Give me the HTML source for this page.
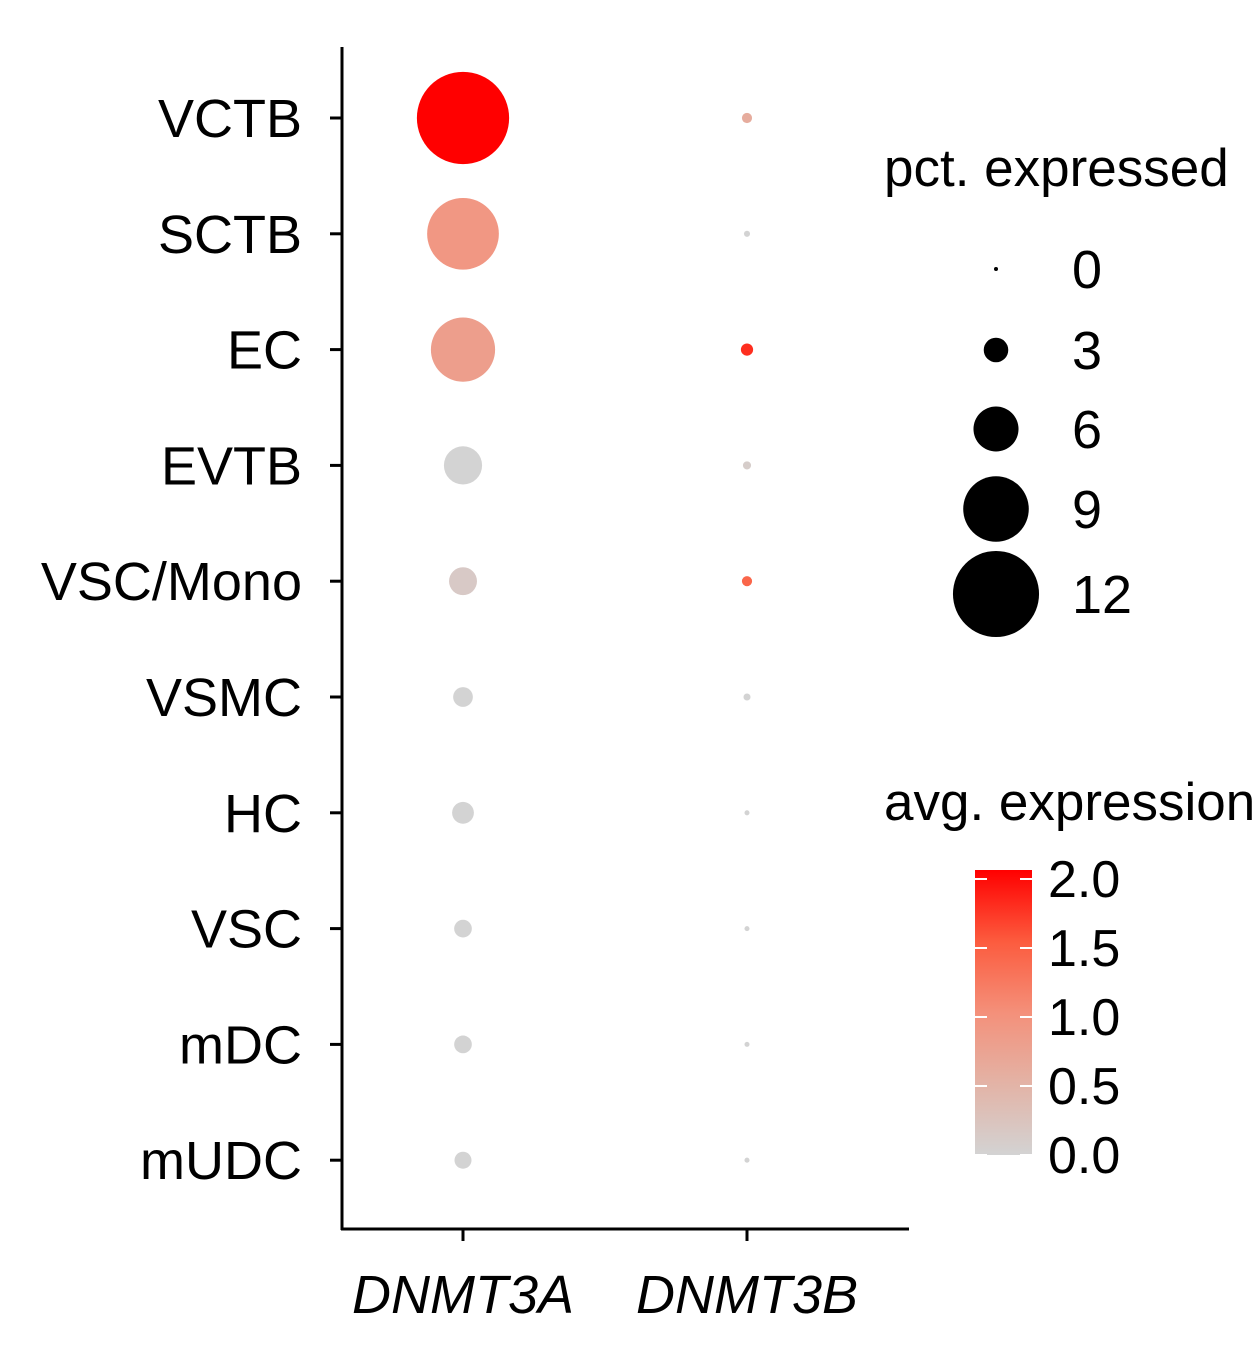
<!DOCTYPE html>
<html><head><meta charset="utf-8"><style>
html,body{margin:0;padding:0;background:#fff}
svg text{font-family:"Liberation Sans",Arial,sans-serif;fill:#000}
</style></head><body>
<svg id="chart" width="1259" height="1344" viewBox="0 0 1259 1344">
<defs>
<linearGradient id="cg" x1="0" y1="1" x2="0" y2="0">
<stop offset="0" stop-color="#d3d3d3"/><stop offset="0.25" stop-color="#e3b3a6"/><stop offset="0.5" stop-color="#f4907a"/><stop offset="0.75" stop-color="#fc5b3e"/><stop offset="1" stop-color="#ff0000"/>
</linearGradient>
</defs>
<g id="plot"></g>
<g id="legend"></g>
</svg>
<script>
const categories = ["VCTB","SCTB","EC","EVTB","VSC/Mono","VSMC","HC","VSC","mDC","mUDC"];
const genes = ["DNMT3A","DNMT3B"];
const pctA = [12.9,9.9,8.8,5.0,3.5,2.3,2.6,2.0,2.0,1.9];
const pctB = [0.9,0.3,1.2,0.6,0.9,0.45,0.15,0.15,0.15,0.15];
const expA = [2.0,0.9,0.8,0.0,0.15,0.0,0.0,0.0,0.0,0.0];
const expB = [0.6,0.0,1.75,0.1,1.4,0.0,0.0,0.0,0.0,0.0];
const sizeBreaks = [0,3,6,9,12];
const colorTicks = ["0.0","0.5","1.0","1.5","2.0"];

const NS="http://www.w3.org/2000/svg";
function mk(tag,attrs,parent,txt){const e=document.createElementNS(NS,tag);for(const k in attrs)e.setAttribute(k,attrs[k]);if(txt!==undefined)e.textContent=txt;parent.appendChild(e);return e;}
const yRow = i => 118 + i*115.8;
const xGene = j => 463 + j*284;
const rad = p => 2 + 3.42*p;
const cVal = v => 1155 - v*138;
const stops=[[211,211,211],[227,179,166],[244,144,122],[252,91,62],[255,0,0]];
function col(v){const t=Math.max(0,Math.min(1,v/2))*4;const k=Math.min(3,Math.floor(t));const f=t-k;const a=stops[k],b=stops[k+1];return `rgb(${Math.round(a[0]+(b[0]-a[0])*f)},${Math.round(a[1]+(b[1]-a[1])*f)},${Math.round(a[2]+(b[2]-a[2])*f)})`;}

const plot=document.getElementById('plot');
let e;
e=mk('line',{x1:342,y1:47,x2:342,y2:1230,stroke:'#000','stroke-width':3},plot);

e=mk('line',{x1:341,y1:1229,x2:909,y2:1229,stroke:'#000','stroke-width':3},plot);

categories.forEach((c,i)=>{
  const y=yRow(i);
  let t=mk('line',{x1:330,y1:y,x2:342,y2:y,stroke:'#000','stroke-width':3},plot);
  
  t=mk('text',{x:302,y:y+19,'font-size':54,'text-anchor':'end'},plot,c);
  
});
genes.forEach((g,j)=>{
  const x=xGene(j);
  let t=mk('line',{x1:x,y1:1229,x2:x,y2:1241,stroke:'#000','stroke-width':3},plot);
  
  t=mk('text',{x:x,y:1313,'font-size':54,'font-style':'italic','text-anchor':'middle'},plot,g);
  
});
[[pctA,expA],[pctB,expB]].forEach(([p,v],j)=>{
  categories.forEach((c,i)=>{
    const d=mk('circle',{cx:xGene(j),cy:yRow(i),r:rad(p[i]),fill:col(v[i])},plot);
    
    
  });
});

const lg=document.getElementById('legend');
e=mk('text',{x:884,y:186,'font-size':53},lg,'pct. expressed');

const sizeY=[269,350,429,509,594];
sizeBreaks.forEach((b,i)=>{
  let d=mk('circle',{cx:996,cy:sizeY[i],r:rad(b),fill:'#000'},lg);
  
  d=mk('text',{x:1072,y:sizeY[i]+19,'font-size':54},lg,String(b));
  
});
e=mk('text',{x:884,y:820,'font-size':53},lg,'avg. expression');

e=mk('rect',{x:975,y:870,width:57,height:285,fill:'url(#cg)'},lg);

colorTicks.forEach(t=>{
  const y=cVal(parseFloat(t));
  let l=mk('line',{x1:975,y1:y,x2:987,y2:y,stroke:'#fff','stroke-width':2},lg);
  
  l=mk('line',{x1:1020,y1:y,x2:1032,y2:y,stroke:'#fff','stroke-width':2},lg);
  
  l=mk('text',{x:1048,y:y+18,'font-size':52},lg,t);
  
});
</script>
</body></html>
